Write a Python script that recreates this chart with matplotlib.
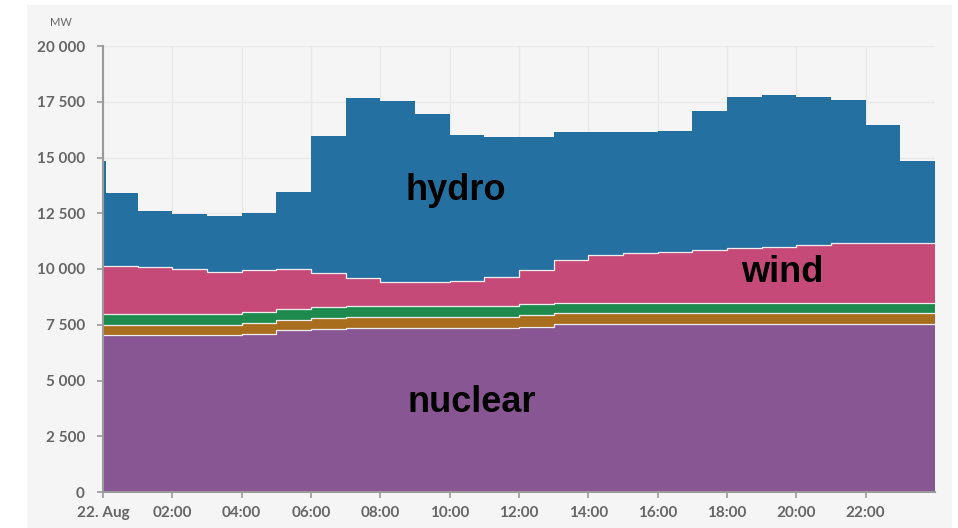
import numpy as np
import matplotlib.pyplot as plt
from matplotlib.patches import Rectangle
from matplotlib.ticker import FuncFormatter

# segment start times (hours after midnight, 22 Aug); each value holds until the next start
hours = [0, 0.08, 1, 2, 3, 4, 5, 6, 7, 8, 9, 10, 11, 12,
         13, 14, 15, 16, 17, 18, 19, 20, 21, 22, 23]

nuclear = [7040, 7040, 7040, 7040, 7040, 7100, 7250, 7330, 7350, 7350, 7350, 7350, 7350,
           7420, 7520, 7520, 7520, 7520, 7520, 7520, 7520, 7520, 7520, 7520, 7520]
other1 = [450, 450, 450, 450, 450, 460, 480, 490, 500, 500, 500, 500, 500,
          500, 510, 510, 510, 510, 510, 510, 510, 510, 510, 510, 510]
other2 = [490, 490, 490, 490, 490, 520, 470, 480, 490, 490, 490, 490, 490,
          500, 460, 460, 460, 460, 460, 460, 460, 460, 460, 460, 460]
wind = [2170, 2170, 2120, 2020, 1890, 1870, 1780, 1520, 1260, 1080, 1060, 1100, 1300,
        1530, 1910, 2160, 2240, 2290, 2360, 2450, 2500, 2585, 2675, 2690, 2690]
hydro = [4700, 3250, 2500, 2470, 2500, 2570, 3470, 6130, 8050, 8130, 7550, 6560, 6260,
         5950, 5750, 5500, 5420, 5420, 6250, 6780, 6810, 6645, 6435, 5270, 3670]

layers = [nuclear, other1, other2, wind, hydro]
colors = ["#875693", "#a86d1d", "#1f8a4d", "#c54a78", "#2470a1"]

xtick_pos = [0, 2, 4, 6, 8, 10, 12, 14, 16, 18, 20, 22]
xtick_lab = ["22. Aug", "02:00", "04:00", "06:00", "08:00", "10:00",
             "12:00", "14:00", "16:00", "18:00", "20:00", "22:00"]

bg = "#f5f5f5"
grey = "#666666"

fig = plt.figure(figsize=(9.58, 5.28), dpi=100, facecolor="white")
fig.patches.append(Rectangle((27 / 958, 0), (952 - 27) / 958, 1 - 5 / 528,
                             transform=fig.transFigure, facecolor=bg,
                             edgecolor="none", zorder=-10))
ax = fig.add_axes([103 / 958, 36 / 528, 832 / 958, 446 / 528])
ax.set_facecolor(bg)

x = np.array(hours + [24])
base = np.zeros(len(x))
for vals, c in zip(layers, colors):
    top = base + np.array(vals + [vals[-1]])
    ax.fill_between(x, base, top, step="post", facecolor=c, edgecolor="none",
                    linewidth=0, zorder=2)
    base = top
# light separator lines between layers
base = np.zeros(len(x))
for vals in layers[:-1]:
    base = base + np.array(vals + [vals[-1]])
    ax.step(x, base, where="post", color="#eeeeee", lw=0.9, zorder=3)

ax.set_xlim(0, 24)
ax.set_ylim(0, 20000)
ax.set_yticks(range(0, 20001, 2500))
ax.yaxis.set_major_formatter(FuncFormatter(lambda v, p: f"{int(v):,}".replace(",", " ")))
ax.set_xticks(xtick_pos)
ax.set_xticklabels(xtick_lab)

ax.grid(True, color="#e9e9e9", lw=1, zorder=0)
ax.set_axisbelow(True)
for s in ["top", "right"]:
    ax.spines[s].set_visible(False)
for s in ["left", "bottom"]:
    ax.spines[s].set_color("#9a9a9a")
    ax.spines[s].set_linewidth(1.5)
    ax.spines[s].set_zorder(4)

ax.tick_params(axis="y", length=4, width=1.2, color="#9a9a9a", pad=9,
               labelcolor=grey, labelsize=11)
ax.tick_params(axis="x", length=4, width=1.2, color="#9a9a9a", pad=6,
               labelcolor=grey, labelsize=11)
for lab in ax.get_xticklabels() + ax.get_yticklabels():
    lab.set_family("Lato")
    lab.set_fontweight("bold")

fig.text(61 / 958, 1 - 23 / 528, "MW", ha="center", va="center",
         color=grey, fontsize=8, family="Lato")

lab_font = dict(family="Liberation Sans", fontweight="bold", fontsize=26,
                color="black", ha="center", va="center", zorder=5)
ax.text(10.18, 13540, "hydro", **lab_font)
ax.text(19.6, 9865, "wind", **lab_font)
ax.text(10.65, 4035, "nuclear", **lab_font)

fig.savefig("out.png", dpi=100, facecolor="white")
